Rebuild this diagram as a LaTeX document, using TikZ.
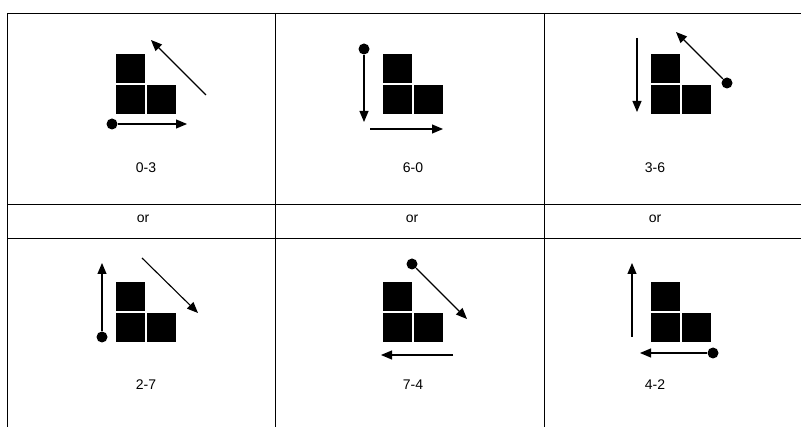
\documentclass[tikz,border=0pt]{standalone}
\usepackage{fontspec}
\setmainfont{Liberation Sans}
\usetikzlibrary{arrows.meta}
\begin{document}
\begin{tikzpicture}[x=1pt,y=-1pt,line join=round,>={Triangle[length=11pt,width=9pt]},line width=1pt]
	\tikzset{every node/.style={font=\fontsize{14}{16}\selectfont},
		dot/.style={circle,fill,inner sep=0pt,minimum size=11pt},
		blk/.style={fill=black,draw=none},
		grid/.style={line width=0.9pt},
		mv/.style={->,line width=1.1pt}}
	\useasboundingbox (0,0) rectangle (801,427);
	% table
	\draw[grid] (7,427)--(7,13)--(801,13);
	\foreach \gx in {275,544}
	\draw[grid] (\gx,13)--(\gx,427);
	\foreach \gy in {204,238}
	\draw[grid] (7,\gy)--(801,\gy);
	% blocks
	\foreach \bx/\by in {116/54,383/54,651/54,116/282,383/282,651/282}{
		\fill[blk] (\bx,\by) rectangle ++(29,29);
		\fill[blk] (\bx,\by+31) rectangle ++(29,29);
		\fill[blk] (\bx+31,\by+31) rectangle ++(29,29);
	}
	% 0-3
	\node[dot] (d03) at (112,124) {};
	\coordinate (e03) at (187,124);
	\draw[mv] (d03)--(e03);
	\coordinate (s03) at (206,95);
	\coordinate (t03) at (151,40);
	\draw[mv] (s03)--(t03);
	\node (l03) at (146,168) {0-3};
	% 6-0
	\node[dot] (d60) at (364,49) {};
	\coordinate (e60) at (364,122);
	\draw[mv] (d60)--(e60);
	\coordinate (s60) at (370,129);
	\coordinate (t60) at (443,129);
	\draw[mv] (s60)--(t60);
	\node (l60) at (413,168) {6-0};
	% 3-6
	\coordinate (s36) at (637,38);
	\coordinate (t36) at (637,112);
	\draw[mv] (s36)--(t36);
	\node[dot] (d36) at (727,83) {};
	\coordinate (e36) at (676,32);
	\draw[mv] (d36)--(e36);
	\node (l36) at (655,168) {3-6};
	% or
	\foreach \ox/\on in {143/o1,412/o2,655/o3}
	\node (\on) at (\ox,219) {or};
	% 2-7
	\node[dot] (d27) at (102,337) {};
	\coordinate (e27) at (102,263);
	\draw[mv] (d27)--(e27);
	\coordinate (s27) at (142,258);
	\coordinate (t27) at (198,313);
	\draw[mv] (s27)--(t27);
	\node (l27) at (146,385) {2-7};
	% 7-4
	\node[dot] (d74) at (412,264) {};
	\coordinate (e74) at (467,319);
	\draw[mv] (d74)--(e74);
	\coordinate (s74) at (453,355);
	\coordinate (t74) at (381,355);
	\draw[mv] (s74)--(t74);
	\node (l74) at (413,385) {7-4};
	% 4-2
	\coordinate (s42) at (632,337);
	\coordinate (t42) at (632,263);
	\draw[mv] (s42)--(t42);
	\node[dot] (d42) at (713,353) {};
	\coordinate (e42) at (640,353);
	\draw[mv] (d42)--(e42);
	\node (l42) at (655,385) {4-2};
\end{tikzpicture}
\end{document}
